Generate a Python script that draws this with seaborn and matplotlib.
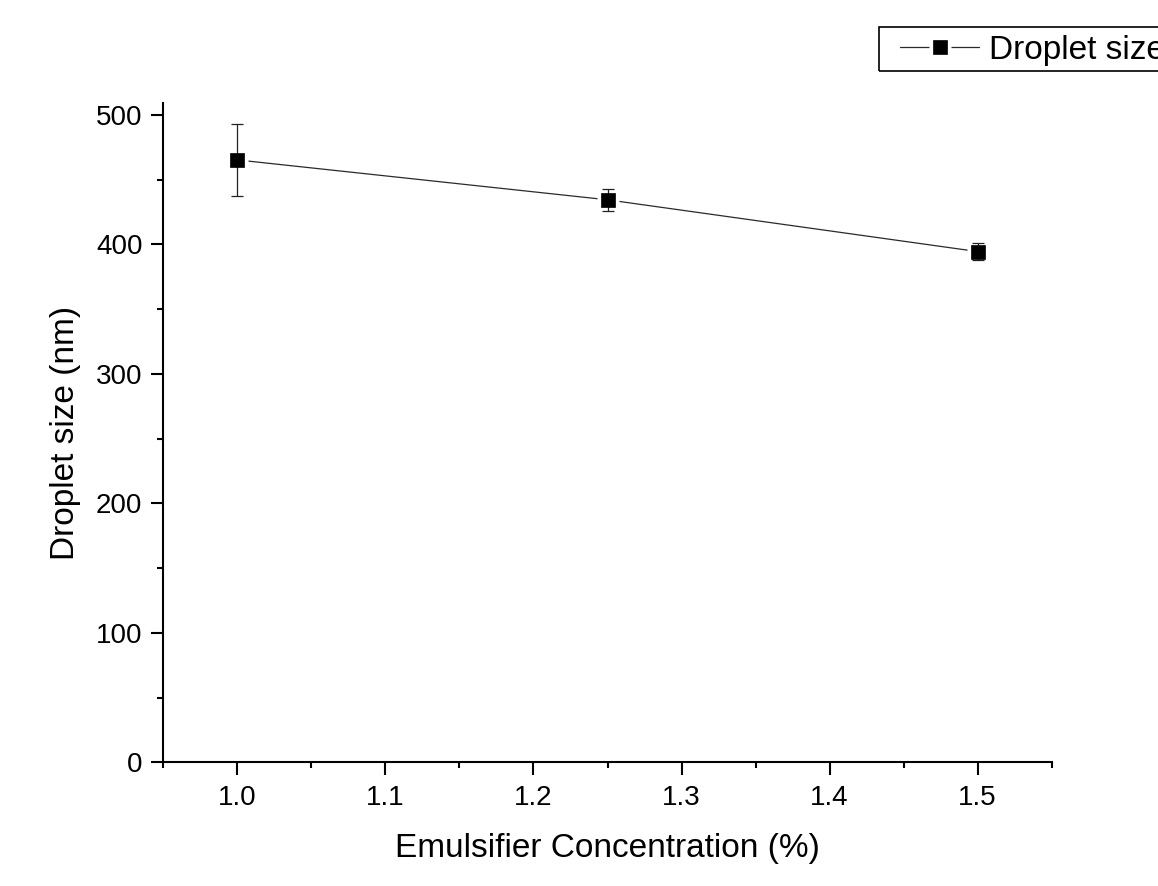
import matplotlib
matplotlib.use('Agg')
import matplotlib.pyplot as plt
import seaborn as sns
import pandas as pd
from matplotlib.ticker import MultipleLocator, FormatStrFormatter
from matplotlib.legend_handler import HandlerTuple
from matplotlib.patches import Rectangle

# Data
conc = [1.0, 1.25, 1.5]          # Emulsifier concentration (%)
size = [465.3, 434.5, 394.5]     # Droplet size (nm)
err = [27.8, 8.3, 6.5]           # error (nm)
series_label = 'Droplet size'
xlabel = 'Emulsifier Concentration (%)'
ylabel = 'Droplet size (nm)'

sns.set_theme(style='ticks')
plt.rcParams['font.family'] = ['Liberation Sans', 'DejaVu Sans']
plt.rcParams['axes.edgecolor'] = 'black'
plt.rcParams['xtick.color'] = 'black'
plt.rcParams['ytick.color'] = 'black'
plt.rcParams['text.color'] = 'black'
plt.rcParams['axes.labelcolor'] = 'black'

W, H = 1158, 886
fig = plt.figure(figsize=(W / 100, H / 100), dpi=100)
fig.patch.set_facecolor('white')
ax = fig.add_axes([163.3 / W, 1 - 762.3 / H, (1051.7 - 163.3) / W, (762.3 - 102.7) / H])
ax.set_facecolor('white')

df = pd.DataFrame({'conc': conc, 'size': size})
sns.lineplot(data=df, x='conc', y='size', ax=ax, color='#2a2a2a', linewidth=0.9, zorder=1)
line = ax.lines[-1]
wm, = ax.plot(conc, size, ls='none', marker='s', ms=16, mfc='white', mec='none', zorder=2)
ax.errorbar(conc, size, yerr=err, fmt='none', ecolor='#222222', elinewidth=0.9,
            capsize=4.5, capthick=0.9, zorder=3)
bm, = ax.plot(conc, size, ls='none', marker='s', ms=9.5, mfc='black', mec='black',
              mew=0.5, zorder=4)

ax.set_xlim(0.95, 1.55)
ax.set_ylim(0, 509.5)
ax.xaxis.set_major_locator(MultipleLocator(0.1))
ax.xaxis.set_minor_locator(MultipleLocator(0.05))
ax.xaxis.set_major_formatter(FormatStrFormatter('%.1f'))
ax.yaxis.set_major_locator(MultipleLocator(100))
ax.yaxis.set_minor_locator(MultipleLocator(50))

for s in ['top', 'right']:
    ax.spines[s].set_visible(False)
for s in ['left', 'bottom']:
    ax.spines[s].set_linewidth(1.5)
    ax.spines[s].set_color('black')

ax.tick_params(which='major', direction='out', length=9, width=1.5, labelsize=20)
ax.tick_params(which='minor', direction='out', length=4.5, width=1.5)
ax.tick_params(axis='y', which='major', pad=6)
ax.tick_params(axis='x', which='major', pad=7)

ax.set_xlabel(xlabel, fontsize=24, labelpad=16)
ax.set_ylabel(ylabel, fontsize=24, labelpad=11)

# Legend frame (extends past the right edge like the reference)
fig.patches.append(Rectangle((879 / W, 1 - 71 / H), (W + 50 - 879) / W, 44 / H,
                             transform=fig.transFigure, fill=False, edgecolor='black',
                             linewidth=1.2, clip_on=False))
leg = fig.legend(handles=[(line, wm, bm)], labels=[series_label], loc='center left',
                 bbox_to_anchor=(897 / W, 1 - 50 / H), bbox_transform=fig.transFigure,
                 frameon=False, fontsize=24, handlelength=2.35, handletextpad=0.3,
                 borderpad=0.1, borderaxespad=0,
                 handler_map={tuple: HandlerTuple(ndivide=1, pad=0)})

fig.savefig('out.png', dpi=100, facecolor='white')
